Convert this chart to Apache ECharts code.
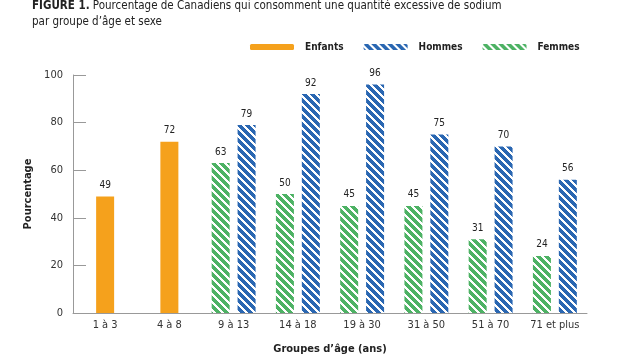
<!DOCTYPE html>
<html><head><meta charset="utf-8">
<script src="https://cdn.jsdelivr.net/npm/echarts@6/dist/echarts.min.js"></script>
<style>html,body{margin:0;padding:0;background:#fff}#c{width:635px;height:357px}</style>
</head><body><div id="c"></div>
<script>
const categories = ['1 à 3','4 à 8','9 à 13','14 à 18','19 à 30','31 à 50','51 à 70','71 et plus'];
const enfants = [49, 72, null, null, null, null, null, null];
const hommes  = [null, null, 79, 92, 96, 75, 70, 56];
const femmes  = [null, null, 63, 50, 45, 45, 31, 24];
const yTicks = [0, 20, 40, 60, 80, 100];

const FONT = '"Liberation Sans Narrow","DejaVu Sans Condensed","Roboto",sans-serif';

function stripes(color, period, width) {
  const c = document.createElement('canvas');
  c.width = period; c.height = period;
  const ctx = c.getContext('2d');
  const img = ctx.createImageData(period, period);
  const r = parseInt(color.slice(1,3),16), g = parseInt(color.slice(3,5),16), b = parseInt(color.slice(5,7),16);
  for (let y = 0; y < period; y++) for (let x = 0; x < period; x++) {
    const k = (((x - y) % period) + period) % period;
    const i = (y * period + x) * 4;
    if (k < width) { img.data[i]=r; img.data[i+1]=g; img.data[i+2]=b; }
    else { img.data[i]=255; img.data[i+1]=255; img.data[i+2]=255; }
    img.data[i+3]=255;
  }
  ctx.putImageData(img, 0, 0);
  return c;
}
const blueP = {image: stripes('#2A67B2', 8, 5), repeat: 'repeat'};
const greenP = {image: stripes('#4DB264', 8, 5), repeat: 'repeat'};

const label = {show: true, position: 'top', distance: 6, color: '#222', fontSize: 10, fontFamily: FONT};

const chart = echarts.init(document.getElementById('c'));
chart.setOption({
  animation: false,
  title: {
    text: '{b|FIGURE 1.} Pourcentage de Canadiens qui consomment une quantité excessive de sodium\npar groupe d\u2019âge et sexe',
    left: 32, top: -2, padding: 0,
    textStyle: {fontFamily: FONT, fontSize: 11.5, fontWeight: 'normal', color: '#222', lineHeight: 16,
      rich: {b: {fontFamily: FONT, fontSize: 11.5, fontWeight: 'bold', color: '#222'}}}
  },
  legend: {
    left: 245, top: 37, itemWidth: 44, itemHeight: 6, itemGap: 20,
    data: ['Enfants','Hommes','Femmes'],
    textStyle: {fontFamily: FONT, fontSize: 10, fontWeight: 'bold', color: '#222', padding: [0,0,0,6]}
  },
  grid: {left: 73, right: 48, top: 75, bottom: 44, containLabel: false, outerBoundsMode: 'none'},
  xAxis: [{
    type: 'category', data: categories,
    name: 'Groupes d\u2019âge (ans)', nameLocation: 'middle', nameGap: 31,
    nameTextStyle: {fontFamily: FONT, fontSize: 11, fontWeight: 'bold', color: '#222'},
    axisLine: {lineStyle: {color: '#999'}},
    axisTick: {inside: true, length: 5, lineStyle: {color: '#999'}},
    axisLabel: {fontFamily: FONT, fontSize: 11, color: '#333', margin: 7}
  }, {
    type: 'category', data: categories, show: false
  }],
  yAxis: {
    type: 'value', min: 0, max: 100, interval: 20,
    name: 'Pourcentage', nameLocation: 'middle', nameGap: 32, nameRotate: 90,
    nameTextStyle: {fontFamily: FONT, fontSize: 11, fontWeight: 'bold', color: '#222'},
    axisLine: {show: true, lineStyle: {color: '#999'}},
    axisTick: {show: true, inside: true, length: 13, lineStyle: {color: '#999'}},
    axisLabel: {fontFamily: FONT, fontSize: 11, color: '#333', margin: 10,
      formatter: v => yTicks.includes(v) ? String(v) : ''},
    splitLine: {show: false}
  },
  series: [
    {name: 'Enfants', type: 'bar', xAxisIndex: 1, data: enfants, barWidth: 18,
     itemStyle: {color: '#F5A11C'}, label},
    {name: 'Femmes', type: 'bar', xAxisIndex: 0, data: femmes, barWidth: 18, barGap: '44%',
     itemStyle: {color: greenP}, label},
    {name: 'Hommes', type: 'bar', xAxisIndex: 0, data: hommes, barWidth: 18, barGap: '44%',
     itemStyle: {color: blueP}, label}
  ]
});
</script></body></html>
